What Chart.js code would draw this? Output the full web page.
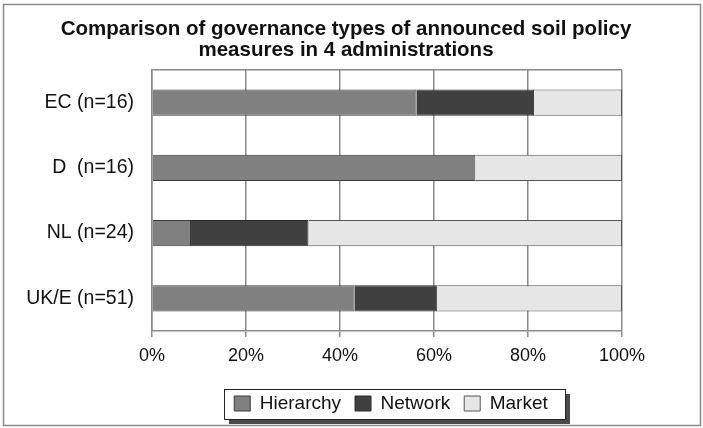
<!DOCTYPE html>
<html>
<head>
<meta charset="utf-8">
<script src="https://cdn.jsdelivr.net/npm/chart.js@4/dist/chart.umd.min.js"></script>
<style>
  body { margin: 0; background: #fff; }
  #wrap { width: 703px; height: 428px; }
</style>
</head>
<body>
<div id="wrap"><canvas id="chart" width="703" height="428"></canvas></div>
<script>
// data (share of measures, %)
var categories = ['EC (n=16)', 'D  (n=16)', 'NL (n=24)', 'UK/E (n=51)'];
var hierarchy = [56.3, 68.8, 8.3, 43.1];
var network = [25.0, 0, 25.0, 17.6];
var market = [18.7, 31.2, 66.7, 39.3];
var xTicks = [0, 20, 40, 60, 80, 100];

var FONT = "'Liberation Sans', Arial, sans-serif";

// frame round the picture, box + shadow round the legend,
// and nudge title/legend to where they sit in the original
var framePlugin = {
    id: 'framePlugin',
    afterLayout: function(chart) {
        var t = chart.titleBlock, lg = chart.legend;
        t.left += 30; t.right += 30;
        var dy = 380 - lg.top;
        lg.left += 75; lg.right += 75;
        lg.top += dy; lg.bottom += dy;
    },
    beforeDraw: function(chart) {
        var c = chart.ctx;
        c.save();
        c.fillStyle = '#fff';
        c.fillRect(0, 0, chart.width, chart.height);
        c.strokeStyle = '#8a8a8a';
        c.lineWidth = 1.5;
        c.strokeRect(3.5, 4.5, chart.width - 6, chart.height - 7);
        // legend box with drop shadow
        var x = 224, y = 389, w = 341, h = 30;
        c.fillStyle = '#4a4a4a';
        c.fillRect(x + 5, y + h, w, 5);
        c.fillRect(x + w, y + 5, 5, h);
        c.strokeStyle = '#222';
        c.lineWidth = 1;
        c.strokeRect(x + 0.5, y + 0.5, w, h);
        c.restore();
    }
};

var ctx = document.getElementById('chart').getContext('2d');
new Chart(ctx, {
    type: 'bar',
    data: {
        labels: categories,
        datasets: [
            { label: 'Hierarchy', data: hierarchy, backgroundColor: '#808080', borderColor: '#3a3a3a', borderWidth: 1 },
            { label: 'Network', data: network, backgroundColor: '#404040', borderColor: '#2a2a2a', borderWidth: 1 },
            { label: 'Market', data: market, backgroundColor: '#e6e6e6', borderColor: '#555', borderWidth: 1 }
        ]
    },
    options: {
        indexAxis: 'y',
        animation: false,
        responsive: false,
        maintainAspectRatio: false,
        barPercentage: 0.4,
        categoryPercentage: 1,
        layout: { padding: { left: 10, right: 81, top: 4, bottom: 0 } },
        scales: {
            x: {
                stacked: true,
                min: 0,
                max: 100,
                afterBuildTicks: function(axis) {
                    axis.ticks = xTicks.map(function(v) { return { value: v }; });
                },
                afterFit: function(axis) { axis.height = 99 - 45; },
                ticks: {
                    callback: function(v) { return v + '%'; },
                    color: '#111',
                    font: { family: FONT, size: 18 },
                    padding: 8,
                    maxRotation: 0
                },
                grid: { color: '#8a8a8a', lineWidth: 1.5, tickLength: 6 },
                border: { color: '#8a8a8a', width: 1.5 }
            },
            y: {
                stacked: true,
                afterFit: function(axis) { axis.width = 142; },
                ticks: {
                    color: '#111',
                    font: { family: FONT, size: 19.5 },
                    padding: 18
                },
                grid: {
                    drawTicks: false,
                    lineWidth: 1.5,
                    color: function(c) {
                        return (c.index === 0 || c.index === categories.length) ? '#8a8a8a' : 'rgba(0,0,0,0)';
                    }
                },
                border: { color: '#8a8a8a', width: 1.5 }
            }
        },
        plugins: {
            title: {
                display: true,
                text: ['Comparison of governance types of announced soil policy', 'measures in 4 administrations'],
                color: '#111',
                font: { family: FONT, size: 20.5, weight: 'bold', lineHeight: 1.06 },
                padding: { top: 14, bottom: 8.5 }
            },
            legend: {
                position: 'bottom',
                labels: {
                    color: '#111',
                    font: { family: FONT, size: 19 },
                    boxWidth: 16,
                    boxHeight: 15,
                    padding: 14
                }
            },
            tooltip: { enabled: false }
        }
    },
    plugins: [framePlugin]
});
</script>
</body>
</html>
